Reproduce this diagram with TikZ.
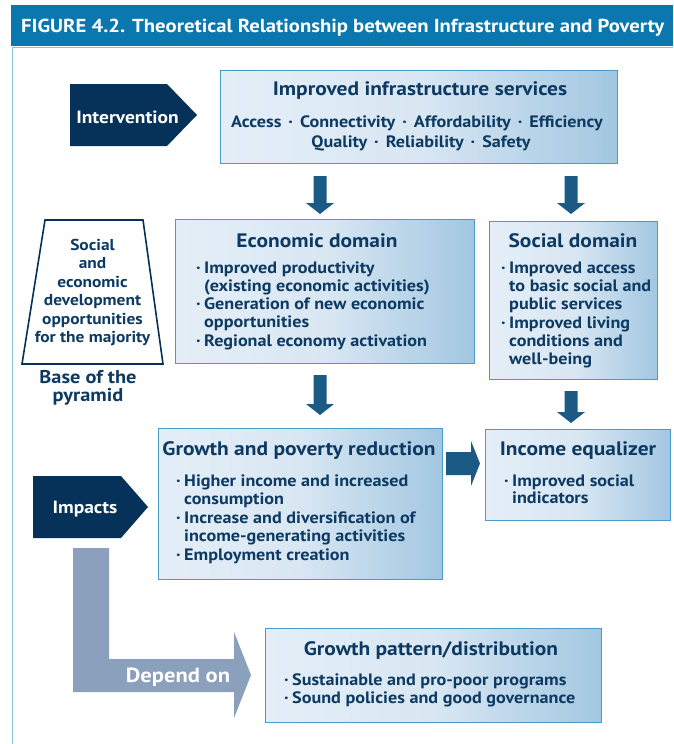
\documentclass[tikz,border=0pt]{standalone}
\usepackage{fontspec}
\setmainfont{PT Sans}[FakeStretch=1.1]
\definecolor{barblue}{HTML}{0A77AE}
\definecolor{framec}{HTML}{8CC0E0}
\definecolor{navy}{HTML}{06325A}
\definecolor{arrowc}{HTML}{1B5A85}
\definecolor{dependc}{HTML}{8AA0BC}
\definecolor{boxline}{HTML}{4A9ACD}
\definecolor{boxL}{HTML}{E4EEF7}
\definecolor{boxM}{HTML}{D9E7F3}
\definecolor{boxR}{HTML}{A2C7E1}
\definecolor{ink}{HTML}{0D3A63}
% pale on the left, deepening towards the right edge
\pgfdeclarehorizontalshading{boxshade}{100bp}{color(0bp)=(boxL); color(25bp)=(boxL); color(50bp)=(boxM); color(75bp)=(boxR); color(100bp)=(boxR)}
\newcommand\bl{\llap{·\hspace{3.5pt}}}
\newcommand\sep{\hspace{7pt}·\hspace{7pt}}
\newcommand\downblock[3]{\fill[arrowc] (#1-6.5,#2) -- (#1+6.5,#2) -- (#1+6.5,#3-11) -- (#1+14,#3-11) -- (#1,#3) -- (#1-14,#3-11) -- (#1-6.5,#3-11) -- cycle;}
\begin{document}
\begin{tikzpicture}[x=1pt,y=-1pt,
  box/.style={draw=boxline, line width=0.9pt, shade, shading=boxshade, inner sep=0, anchor=north west},
  head/.style={text=ink, font=\bfseries\fontsize{19.5}{22}\selectfont, inner sep=0, anchor=base},
  body/.style={text=ink, font=\bfseries\fontsize{16.5}{19}\selectfont, inner sep=0, anchor=base west},
  tag/.style={text=white, font=\bfseries\fontsize{17.7}{20}\selectfont, inner sep=0, anchor=base}]
\clip (0,0) rectangle (673,744);
\fill[white] (0,0) rectangle (673,744);

% title bar and frame
\fill[barblue] (11,5) rectangle (673,46);
\draw[framec, line width=1pt] (12,47.5) -- (673,47.5);
\draw[framec, line width=1pt] (12,47.5) -- (12,744);
\node[anchor=base west, text=white, font=\bfseries\fontsize{18.8}{22}\selectfont, inner sep=0] (title) at (21,32)
  {FIGURE 4.2. Theoretical Relationship between Infrastructure and Poverty};

% side labels
\fill[navy] (70,84) -- (167,84) -- (197,115) -- (167,146) -- (70,146) -- cycle;
\node[tag] (intervention) at (127.5,123) {Intervention};
\fill[navy] (33,476) -- (121,476) -- (148,507) -- (121,538) -- (33,538) -- cycle;
\node[tag] (impacts) at (85,513) {Impacts};

% base of the pyramid
\draw[navy, line width=1.6pt, fill=white] (45,220) -- (143,220) -- (163,364) -- (22,364) -- cycle;
\begin{scope}[every node/.style={text=ink, font=\bfseries\fontsize{15.8}{18}\selectfont, inner sep=0, anchor=base}]
\node (p1) at (92.5,250) {Social};
\node (p2) at (92.5,268.5) {and};
\node (p3) at (92.5,287) {economic};
\node (p4) at (92.5,305.5) {development};
\node (p5) at (92.5,324) {opportunities};
\node (p6) at (92.5,342.5) {for the majority};
\end{scope}
\node[head, font=\bfseries\fontsize{18.5}{21}\selectfont] (base1) at (88,383) {Base of the};
\node[head, font=\bfseries\fontsize{18.5}{21}\selectfont] (base2) at (88,401) {pyramid};

% boxes
\node[box, minimum width=397, minimum height=93] (infra) at (220,70) {};
\node[box, minimum width=299, minimum height=144] (econ) at (175,219) {};
\node[box, minimum width=168, minimum height=158] (social) at (489,221) {};
\node[box, minimum width=284, minimum height=151] (growth) at (158,428) {};
\node[box, minimum width=185, minimum height=91] (income) at (485,429) {};
\node[box, minimum width=336, minimum height=94] (pattern) at (265,628) {};

% block arrows
\downblock{320}{176}{214}
\downblock{571}{176}{214}
\downblock{320}{375}{415}
\downblock{571}{391}{423}
\fill[arrowc] (446,452) -- (471,452) -- (471,441) -- (480,463.5) -- (471,486) -- (471,475) -- (446,475) -- cycle;
\fill[dependc] (73,548) -- (109,548) -- (109,659) -- (234,659) -- (234,632) -- (251,675) -- (234,718) -- (234,692) -- (73,692) -- cycle;
\node[tag, font=\bfseries\fontsize{20.5}{23}\selectfont] (depend) at (178,682) {Depend on};

% box texts
\node[head] (infraH) at (420,95) {Improved infrastructure services};
\node[body, anchor=base] (infra1) at (417,127) {Access\sep Connectivity\sep Affordability\sep Efficiency};
\node[body, anchor=base] (infra2) at (421,147) {Quality\sep Reliability\sep Safety};

\node[head] (econH) at (317,247) {Economic domain};
\node[body] (e1) at (204,273) {\bl Improved productivity};
\node[body] (e2) at (204,291) {(existing economic activities)};
\node[body] (e3) at (204,309) {\bl Generation of new economic};
\node[body] (e4) at (204,327.5) {opportunities};
\node[body] (e5) at (204,346) {\bl Regional economy activation};

\node[head] (socialH) at (573,247) {Social domain};
\node[body] (s1) at (509,273) {\bl Improved access};
\node[body] (s2) at (509,291) {to basic social and};
\node[body] (s3) at (509,309) {public services};
\node[body] (s4) at (509,328) {\bl Improved living};
\node[body] (s5) at (509,346) {conditions and};
\node[body] (s6) at (509,364) {well-being};

\node[head] (growthH) at (299,455) {Growth and poverty reduction};
\node[body] (g1) at (184,486) {\bl Higher income and increased};
\node[body] (g2) at (184,504) {consumption};
\node[body] (g3) at (184,523) {\bl Increase and diversification of};
\node[body] (g4) at (184,541) {income-generating activities};
\node[body] (g5) at (184,560) {\bl Employment creation};

\node[head] (incomeH) at (578,455) {Income equalizer};
\node[body] (i1) at (512,486) {\bl Improved social};
\node[body] (i2) at (512,503) {indicators};

\node[head] (patternH) at (431,655) {Growth pattern/distribution};
\node[body] (t1) at (292,685) {\bl Sustainable and pro-poor programs};
\node[body] (t2) at (292,703) {\bl Sound policies and good governance};
\end{tikzpicture}
\end{document}
